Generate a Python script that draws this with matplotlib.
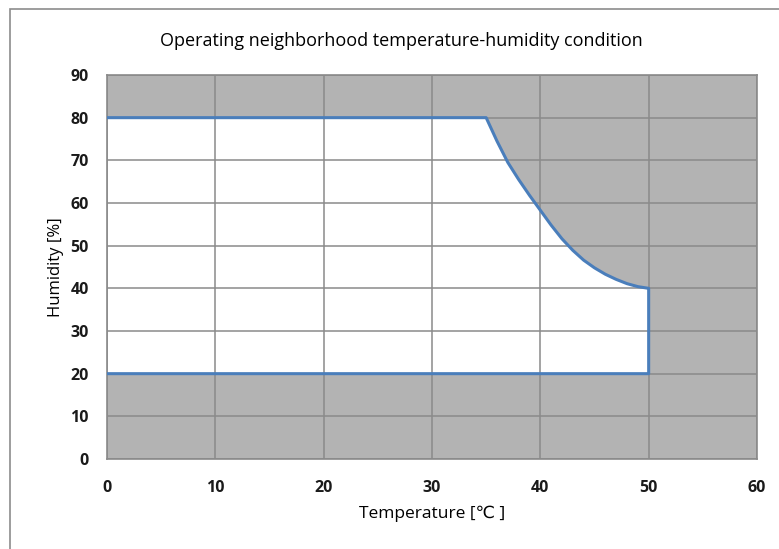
import matplotlib.pyplot as plt

# operating envelope (upper edge, curved edge, lower edge)
temp = [0, 35, 36, 37, 38, 39, 40, 41, 42, 43, 44, 45, 46, 47, 48, 49,
        50, 50, 0]
humid = [80, 80, 74.5, 69.5, 65.5, 61.8, 58.3, 54.8, 51.6, 48.9, 46.6, 44.8,
         43.3, 42.1, 41.1, 40.4, 40, 20, 20]
x_ticks = [0, 10, 20, 30, 40, 50, 60]
y_ticks = [0, 10, 20, 30, 40, 50, 60, 70, 80, 90]

plt.rcParams['font.family'] = ['Open Sans', 'DejaVu Sans']

fig = plt.figure(figsize=(7.79, 5.49), dpi=100)
# outer chart frame
fig.patches.append(plt.Rectangle((10 / 779, -0.01), 1.0, 1 - 9 / 549 + 0.01,
                                 transform=fig.transFigure, fill=False,
                                 edgecolor='#8c8c8c', linewidth=1.2))

ax = fig.add_axes([107 / 779, 1 - 459 / 549, 650 / 779, 384 / 549])
ax.set_facecolor('#b3b3b3')
ax.fill(temp, humid, color='white', zorder=1)
ax.plot(temp, humid, color='#4a7ebb', linewidth=2.2, zorder=3,
        solid_joinstyle='round')

ax.set_xlim(0, 60)
ax.set_ylim(0, 90)
ax.set_xticks(x_ticks)
ax.set_yticks(y_ticks)
ax.grid(True, color='#8a8a8a', linewidth=1.1, zorder=2)
ax.set_axisbelow(False)
for s in ax.spines.values():
    s.set_color('#8a8a8a')
    s.set_linewidth(1.2)
ax.tick_params(length=0, labelsize=11.5, colors='#1a1a1a')
ax.tick_params(axis='x', pad=15)
ax.tick_params(axis='y', pad=13)
for lab in ax.get_xticklabels() + ax.get_yticklabels():
    lab.set_fontweight('bold')

ax.set_xlabel('Temperature [\u2103 ]', fontsize=12.5, labelpad=7)
ax.set_ylabel('Humidity [%]', fontsize=12, labelpad=5)
fig.text(401 / 779, 1 - 46 / 549, 'Operating neighborhood temperature-humidity condition',
         ha='center', va='baseline', fontsize=13)

fig.savefig('out.png', dpi=100)
